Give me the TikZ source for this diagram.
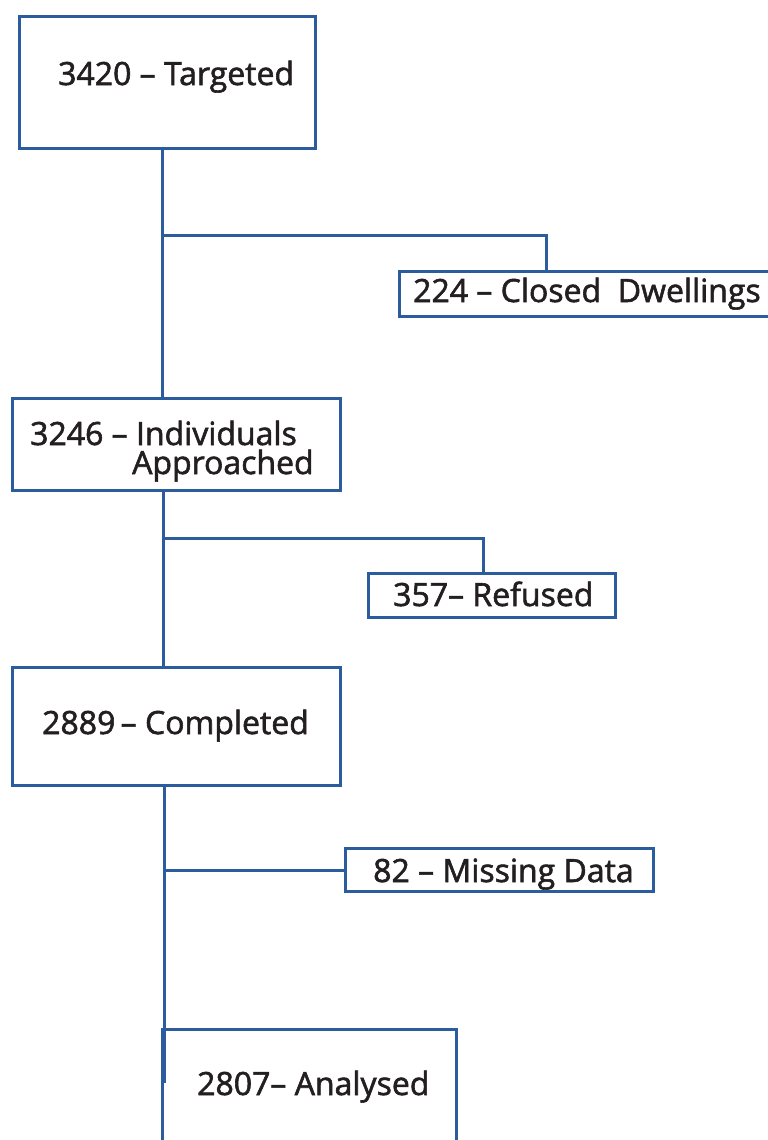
\documentclass[tikz,border=0pt]{standalone}
\usepackage{fontspec}
\setmainfont{Open Sans}
\newfontfamily\semifont{Open Sans}[FakeBold=1.8]
\definecolor{lineblue}{HTML}{2B5C9E}
\definecolor{txt}{HTML}{231F20}
\begin{document}
\begin{tikzpicture}[x=1pt,y=-1pt,
  box/.style={draw=lineblue, line width=3pt, fill=white, rectangle, inner sep=0pt},
  conn/.style={draw=lineblue, line width=3pt},
  lbl/.style={text=txt, anchor=base west, inner sep=0pt, font=\semifont\fontsize{32}{38}\selectfont}]
\useasboundingbox (0,0) rectangle (768,1140);
\begin{scope}
\clip (0,0) rectangle (768,1140);
% boxes
\node[box, minimum width=296pt, minimum height=131pt] (t) at (167,82.5) {};
\node[box, minimum width=373pt, minimum height=45pt] (c) at (585.5,293.5) {};
\node[box, minimum width=328pt, minimum height=92pt] (i) at (176,444) {};
\node[box, minimum width=247pt, minimum height=44pt] (r) at (491.5,595) {};
\node[box, minimum width=328pt, minimum height=118pt] (p) at (176,726) {};
\node[box, minimum width=308pt, minimum height=43pt] (m) at (499,869.5) {};
\node[box, minimum width=294pt, minimum height=130pt] (a) at (309,1094) {};
% junctions
\coordinate (j1) at (162,235);
\coordinate (k1) at (546,235);
\coordinate (j2) at (163,538);
\coordinate (k2) at (483,538);
\coordinate (j3) at (164,870);
\coordinate (e3) at (164,1083);
% connectors
\draw[conn] (t.south -| j1) -- (i.north -| j1);
\draw[conn] (j1) -- (k1) -- (k1 |- c.north);
\draw[conn] (i.south -| j2) -- (p.north -| j2);
\draw[conn] (j2) -- (k2) -- (k2 |- r.north);
\draw[conn] (p.south -| j3) -- (e3);
\draw[conn] (j3) -- (j3 -| m.west);
\end{scope}
% labels
\node[lbl] (tl) at (58,85) {3420 – Targeted};
\node[lbl] (cl) at (413,302) {224 – Closed\ \ Dwellings};
\node[lbl] (il1) at (30,445) {3246 – Individuals};
\node[lbl] (il2) at (132,474) {Approached};
\node[lbl] (rl) at (393,606) {357– Refused};
\node[lbl] (pl) at (42,734) {2889\,– Completed};
\node[lbl] (ml) at (373,882) {82 – Missing Data};
\node[lbl] (al) at (197,1095) {2807– Analysed};
\end{tikzpicture}
\end{document}
